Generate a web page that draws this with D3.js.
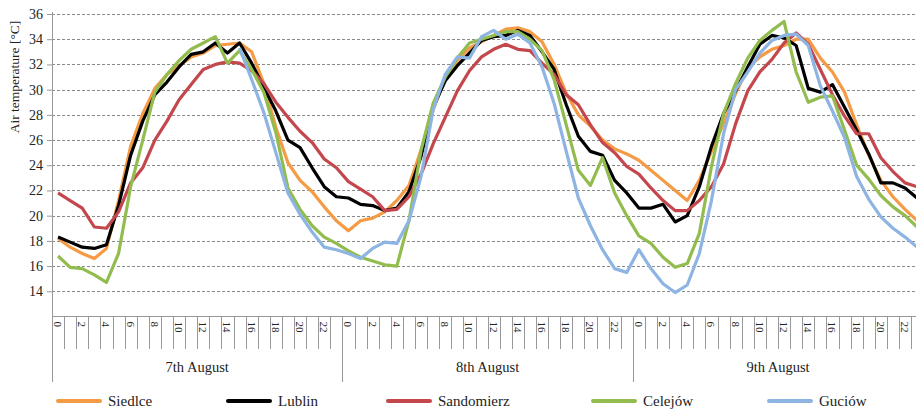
<!DOCTYPE html>
<html>
<head>
<meta charset="utf-8">
<script src="https://cdn.jsdelivr.net/npm/d3@7"></script>
<style>
  body { margin: 0; background: #fff; }
  text { font-family: "Liberation Serif", "Times New Roman", serif; fill: #222; }
</style>
</head>
<body>
<div id="chart"></div>
<script>
// hourly air temperature, 7-9 August
var days = ["7th August", "8th August", "9th August"];
var hourLabels = ["0","2","4","6","8","10","12","14","16","18","20","22"];
var yTicks = [14, 16, 18, 20, 22, 24, 26, 28, 30, 32, 34, 36];

var siedlce = [18.2,17.5,17.0,16.6,17.4,21.2,25.5,28.1,30.1,31.2,31.9,32.6,32.9,33.5,33.6,33.7,33.0,30.5,27.0,24.2,22.8,21.9,20.7,19.6,
  18.8,19.6,19.8,20.3,21.2,22.4,25.2,28.4,30.9,32.3,33.3,33.8,34.3,34.8,34.9,34.6,33.8,32.0,29.7,28.0,27.1,26.0,25.3,24.9,
  24.4,23.6,22.8,22.0,21.2,22.8,25.1,27.3,29.7,31.7,32.6,33.2,33.5,34.0,34.0,32.5,31.4,29.8,27.2,24.8,22.8,21.5,20.5,19.6];
var lublin = [18.3,17.9,17.5,17.4,17.7,20.8,24.8,27.5,29.6,30.6,31.8,32.8,33.0,33.7,32.9,33.7,32.1,30.2,28.3,26.0,25.4,23.8,22.3,21.5,
  21.4,20.9,20.8,20.4,20.6,21.9,24.7,28.6,30.7,31.9,32.9,33.9,34.2,34.3,34.7,34.3,33.0,31.6,28.8,26.3,25.1,24.8,22.8,21.8,
  20.6,20.6,20.9,19.5,20.0,22.3,25.5,28.1,29.9,31.8,33.6,34.3,34.1,33.5,30.1,29.8,30.4,28.6,26.8,24.9,22.6,22.6,22.2,21.4];
var sandomierz = [21.8,21.2,20.6,19.1,19.0,20.3,22.6,23.8,26.0,27.5,29.2,30.4,31.6,32.0,32.2,32.1,31.5,30.5,29.0,27.8,26.7,25.8,24.5,23.8,
  22.7,22.1,21.5,20.4,20.5,21.5,23.3,25.7,27.8,29.9,31.5,32.6,33.2,33.6,33.2,33.1,32.1,31.2,29.6,28.8,27.2,25.8,25.0,23.9,
  23.3,22.2,21.2,20.4,20.4,21.2,22.3,24.1,27.3,29.9,31.4,32.4,33.7,34.5,33.6,31.6,29.6,27.9,26.5,26.5,24.6,23.5,22.6,22.3];
var celejow = [16.8,15.9,15.8,15.3,14.7,17.0,22.3,26.0,29.8,31.2,32.3,33.2,33.7,34.2,32.1,33.1,31.6,29.8,26.6,22.2,20.5,19.2,18.3,17.8,
  17.2,16.7,16.4,16.1,16.0,19.6,25.2,28.9,31.0,32.5,33.7,34.0,34.3,34.6,34.6,34.0,33.1,30.8,27.2,23.6,22.4,24.6,21.8,20.0,
  18.4,17.8,16.7,15.9,16.2,18.6,23.9,28.1,30.5,32.5,33.9,34.7,35.4,31.4,29.0,29.4,29.5,26.8,24.0,22.9,21.6,20.7,20.0,19.1];
var guciow = [null,null,null,null,null,null,null,null,null,null,null,null,null,null,null,33.3,30.8,28.2,25.0,21.8,20.1,18.7,17.5,17.3,
  17.0,16.6,17.4,17.9,17.8,19.6,23.1,28.4,31.2,32.6,32.5,34.2,34.7,34.0,34.4,33.7,31.8,28.9,25.1,21.4,19.2,17.3,15.8,15.5,
  17.3,15.8,14.6,13.9,14.5,17.0,21.2,26.5,30.0,31.4,32.9,33.9,34.3,34.4,33.5,30.3,28.3,26.2,23.1,21.3,19.9,19.0,18.3,17.5];

var stations = ["Siedlce", "Lublin", "Sandomierz", "Celejów", "Guciów"];
var colors = ["#f59a45", "#000000", "#c4474e", "#92bc4e", "#8db4e2"];
var series = [siedlce, lublin, sandomierz, celejow, guciow];

var width = 916, height = 409;
var plotLeft = 52, plotRight = 923.2, plotTop = 14, plotBottom = 316.5;

var svg = d3.select("#chart")
  .append("svg")
  .attr("width", width)
  .attr("height", height);

var hours = d3.range(days.length * 24);

var x = d3.scaleBand()
  .domain(hours)
  .range([plotLeft, plotRight]);

var y = d3.scaleLinear()
  .domain([12, 36])
  .range([plotBottom, plotTop]);

// dashed grid
svg.append("g")
  .selectAll("line")
  .data(yTicks)
  .enter()
  .append("line")
  .attr("x1", plotLeft)
  .attr("x2", width)
  .attr("y1", function(d) { return Math.round(y(d)) + 0.5; })
  .attr("y2", function(d) { return Math.round(y(d)) + 0.5; })
  .attr("stroke", "#8a8a8a")
  .attr("stroke-width", 1)
  .attr("stroke-dasharray", "3,2");

// y axis
var yAxis = svg.append("g")
  .attr("transform", "translate(" + plotLeft + ",0)")
  .call(d3.axisLeft(y).tickValues(yTicks).tickSize(5).tickSizeOuter(0).tickPadding(4));
yAxis.select(".domain").remove();
yAxis.selectAll("line").attr("stroke", "#999");
yAxis.selectAll("text")
  .style("font-family", "Liberation Serif")
  .style("font-size", "14px")
  .attr("fill", "#222");

svg.append("line")
  .attr("x1", plotLeft + 0.5).attr("x2", plotLeft + 0.5)
  .attr("y1", y(36) - 2).attr("y2", 382)
  .attr("stroke", "#999");

svg.append("text")
  .attr("transform", "translate(19," + ((plotTop + 140) / 2) + ") rotate(-90)")
  .attr("text-anchor", "middle")
  .style("font-size", "13.5px")
  .text("Air temperature [°C]");

// x axis with ticks between hours
svg.append("line")
  .attr("x1", plotLeft).attr("x2", width)
  .attr("y1", plotBottom).attr("y2", plotBottom)
  .attr("stroke", "#999");

svg.append("g")
  .selectAll("line")
  .data(d3.range(1, hours.length + 1))
  .enter()
  .append("line")
  .attr("x1", function(i) { return Math.round(plotLeft + i * x.step()) + 0.5; })
  .attr("x2", function(i) { return Math.round(plotLeft + i * x.step()) + 0.5; })
  .attr("y1", plotBottom)
  .attr("y2", function(i) { return i % 24 == 0 ? 382 : 349; })
  .attr("stroke", "#999");

svg.append("g")
  .selectAll("text")
  .data(hours.filter(function(h) { return h % 2 == 0; }))
  .enter()
  .append("text")
  .attr("transform", function(h) {
    return "translate(" + (x(h) + x.bandwidth() / 2 - 4) + "," + (plotBottom + 5) + ") rotate(90)";
  })
  .style("font-size", "11px")
  .text(function(h) { return hourLabels[(h % 24) / 2]; });

svg.append("g")
  .selectAll("text")
  .data(days)
  .enter()
  .append("text")
  .attr("x", function(d, i) { return x(i * 24) + x.step() * 12; })
  .attr("y", 372)
  .attr("text-anchor", "middle")
  .style("font-size", "14.5px")
  .text(function(d) { return d; });

// lines
var line = d3.line()
  .defined(function(d) { return d != null; })
  .x(function(d, i) { return x(i) + x.bandwidth() / 2; })
  .y(function(d) { return y(d); });

svg.append("g")
  .selectAll("path")
  .data(series)
  .enter()
  .append("path")
  .attr("d", line)
  .attr("fill", "none")
  .attr("stroke", function(d, i) { return colors[i]; })
  .attr("stroke-width", 3.2)
  .attr("stroke-linejoin", "round");

// legend
var legendX = [58, 228, 388, 593, 769];
var legend = svg.append("g")
  .selectAll("g")
  .data(stations)
  .enter()
  .append("g")
  .attr("transform", function(d, i) { return "translate(" + legendX[i] + ",401)"; });
legend.append("line")
  .attr("x1", 0).attr("x2", 42)
  .attr("stroke", function(d, i) { return colors[i]; })
  .attr("stroke-width", 4)
  .attr("stroke-linecap", "round");
legend.append("text")
  .attr("x", 50)
  .attr("y", 5)
  .style("font-size", "15px")
  .text(function(d) { return d; });
</script>
</body>
</html>
